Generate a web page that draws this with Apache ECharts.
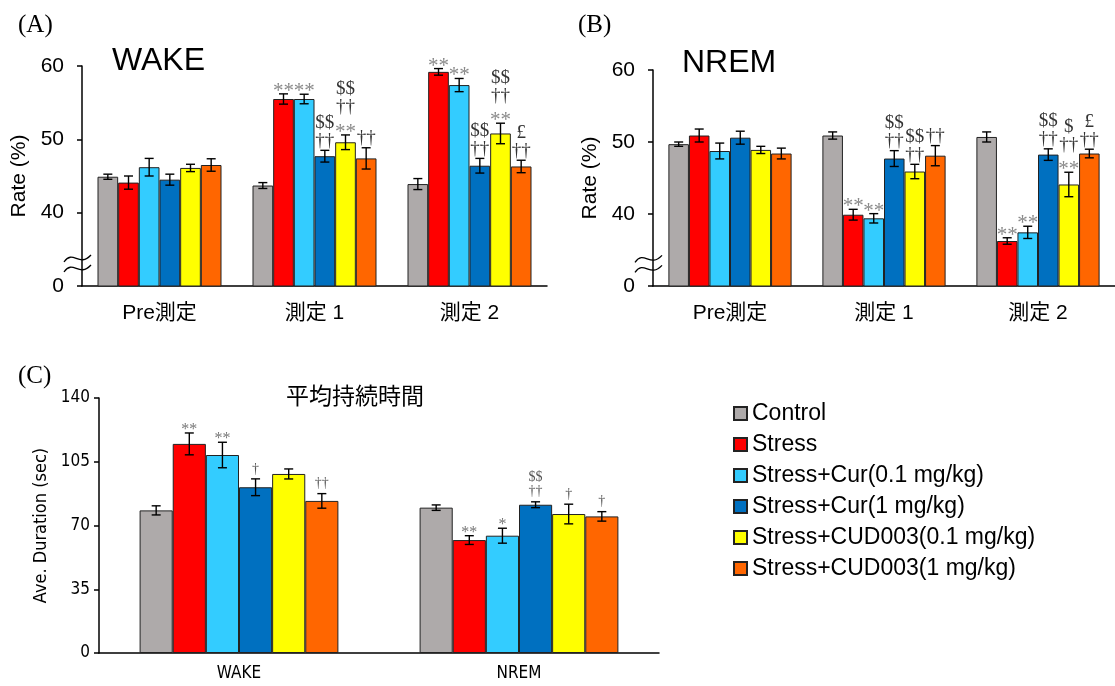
<!DOCTYPE html>
<html>
<head>
<meta charset="utf-8">
<script src="https://cdn.jsdelivr.net/npm/echarts@6/dist/echarts.min.js"></script>
<style>
  html, body { margin: 0; padding: 0; background: #fff; }
  #chart { width: 1115px; height: 686px; }
</style>
</head>
<body>
<div id="chart"></div>
<script>
// ---- data ----
const groups = [
  'Control',
  'Stress',
  'Stress+Cur(0.1 mg/kg)',
  'Stress+Cur(1 mg/kg)',
  'Stress+CUD003(0.1 mg/kg)',
  'Stress+CUD003(1 mg/kg)'
];
const colors = ['#AEAAAA', '#FF0000', '#33CCFF', '#0070C0', '#FFFF00', '#FF6600'];
const phases = ['Pre測定', '測定 1', '測定 2'];
const stages = ['WAKE', 'NREM'];

// WAKE rate (%) per group, across phases
const wakeRate = [
  [44.9, 43.7, 43.9],
  [44.1, 55.5, 59.2],
  [46.2, 55.5, 57.4],
  [44.5, 47.7, 46.4],
  [46.1, 49.6, 50.8],
  [46.5, 47.4, 46.3]
];
const wakeErr = [
  [0.35, 0.4, 0.75],
  [0.9, 0.7, 0.45],
  [1.2, 0.65, 0.9],
  [0.75, 0.8, 1.0],
  [0.5, 1.0, 1.4],
  [0.85, 1.45, 0.85]
];
const wakeSig = [
  ['', '', ''],
  ['', '**', '**'],
  ['', '**', '**'],
  ['', '$$\n††', '$$\n††'],
  ['', '$$\n††\n**', '$$\n††\n**'],
  ['', '††', '£\n††']
];

// NREM rate (%)
const nremRate = [
  [49.7, 50.9, 50.7],
  [50.9, 39.9, 36.25],
  [48.75, 39.4, 37.45],
  [50.6, 47.7, 48.25],
  [48.9, 45.9, 44.1],
  [48.4, 48.1, 48.4]
];
const nremErr = [
  [0.3, 0.5, 0.7],
  [0.9, 0.75, 0.45],
  [1.1, 0.65, 0.85],
  [0.9, 1.1, 0.8],
  [0.5, 1.0, 1.7],
  [0.75, 1.4, 0.6]
];
const nremSig = [
  ['', '', ''],
  ['', '**', '**'],
  ['', '**', '**'],
  ['', '$$\n††', '$$\n††'],
  ['', '$$\n††', '$\n††\n**'],
  ['', '††', '£\n††']
];

// Average episode duration (sec): WAKE, NREM
const duration = [
  [78.3, 79.8],
  [114.8, 62.0],
  [108.7, 64.4],
  [91.0, 81.4],
  [98.3, 76.3],
  [83.5, 75.0]
];
const durationErr = [
  [2.5, 1.5],
  [6.0, 2.4],
  [7.0, 4.1],
  [4.6, 1.6],
  [2.75, 5.4],
  [4.0, 2.6]
];
const durationSig = [
  ['', ''],
  ['**', '**'],
  ['**', '*'],
  ['†', '$$\n††'],
  ['', '†'],
  ['††', '†']
];

const rateTicks = { min: 30, max: 60, interval: 10 };   // lowest tick is shown as 0 (broken axis)
const durTicks = { min: 0, max: 140, interval: 35 };

// ---- style ----
const SANS = "'Liberation Sans', Arial, 'Noto Sans CJK JP', sans-serif";
const NARROW = "'Liberation Sans Narrow', 'Arial Narrow', 'DejaVu Sans Condensed', 'Noto Sans CJK JP', sans-serif";
const SERIF = "'Liberation Serif', 'Times New Roman', serif";

const layout = {
  A: { left: 82, top: 66, width: 465, height: 220 },
  B: { left: 653, top: 70, width: 465, height: 216 },
  C: { left: 99, top: 398, width: 560, height: 255 }
};

const bigMarks = {
  font: '19px ' + SERIF, astFont: '21px ' + SERIF,
  pitch: 18, base: 9.5, astShift: 7, cap: 4.5, color: '#333', astColor: '#8a8a8a'
};
const smallMarks = {
  font: '14px ' + SERIF, astFont: '16px ' + SERIF,
  pitch: 14, base: 10, astShift: 7, cap: 4.5, color: '#555', astColor: '#777'
};

// error bars and significance marks, positioned through the axes
function errorLayer(gi, values, errs, sig, gapRatio, m) {
  const items = [];
  const labels = [];
  values.forEach((row, si) => row.forEach((v, ci) => {
    items.push([ci, si, v, errs[si][ci]]);
    labels.push(sig[si][ci]);
  }));
  return {
    type: 'custom',
    name: 'err' + gi,
    xAxisIndex: gi,
    yAxisIndex: gi,
    z: 5,
    silent: true,
    encode: { x: 0, y: 2 },
    data: items,
    renderItem(params, api) {
      const ci = api.value(0), si = api.value(1), v = api.value(2), e = api.value(3);
      const band = api.size([1, 0])[0];
      const bw = band * (1 - gapRatio) / groups.length;
      const cx = api.coord([ci, v])[0] + (si - (groups.length - 1) / 2) * bw;
      const yHi = api.coord([ci, v + e])[1];
      const yLo = api.coord([ci, v - e])[1];
      const ls = { stroke: '#000', lineWidth: 1.4 };
      const children = [
        { type: 'line', shape: { x1: cx, y1: yHi, x2: cx, y2: yLo }, style: ls },
        { type: 'line', shape: { x1: cx - m.cap, y1: yHi, x2: cx + m.cap, y2: yHi }, style: ls },
        { type: 'line', shape: { x1: cx - m.cap, y1: yLo, x2: cx + m.cap, y2: yLo }, style: ls }
      ];
      const txt = labels[params.dataIndex];
      if (txt) {
        txt.split('\n').reverse().forEach((ln, k) => {
          const ast = ln.indexOf('*') >= 0;
          children.push({
            type: 'text',
            style: {
              text: ln,
              x: cx,
              y: yHi - m.base - k * m.pitch + (ast ? m.astShift : 0),
              align: 'center',
              verticalAlign: 'middle',
              font: ast ? m.astFont : m.font,
              fill: ast ? m.astColor : m.color
            }
          });
        });
      }
      return { type: 'group', children };
    }
  };
}

function valueAxis(gi, ticks, opts) {
  return {
    gridIndex: gi,
    type: 'value',
    min: ticks.min,
    max: ticks.max,
    interval: ticks.interval,
    splitLine: { show: false },
    axisLine: { show: true, lineStyle: { color: '#000', width: 1.5 } },
    axisTick: { show: true, length: 5, lineStyle: { color: '#000', width: 1.5 } },
    axisLabel: {
      color: '#000', fontFamily: opts.font, fontSize: opts.size, margin: opts.margin,
      formatter: opts.formatter
    },
    name: opts.name,
    nameLocation: 'middle',
    nameGap: opts.nameGap,
    nameTextStyle: { color: '#000', fontFamily: opts.font, fontSize: opts.nameSize }
  };
}

function categoryAxis(gi, cats, opts) {
  return {
    gridIndex: gi,
    type: 'category',
    data: cats,
    axisLine: { lineStyle: { color: '#000', width: 1.5 } },
    axisTick: { show: false },
    axisLabel: { color: '#000', fontFamily: opts.font, fontSize: opts.size, margin: opts.margin }
  };
}

const rateLabel = v => (v === rateTicks.min ? '0' : String(v));

const panels = [
  { vals: wakeRate, errs: wakeErr, sig: wakeSig, gap: 0.2, marks: bigMarks },
  { vals: nremRate, errs: nremErr, sig: nremSig, gap: 0.2, marks: bigMarks },
  { vals: duration, errs: durationErr, sig: durationSig, gap: 0.29, marks: smallMarks }
];

const series = [];
panels.forEach((p, gi) => {
  groups.forEach((name, si) => {
    series.push({
      type: 'bar',
      name,
      xAxisIndex: gi,
      yAxisIndex: gi,
      data: p.vals[si],
      barGap: '0%',
      barCategoryGap: Math.round(p.gap * 100) + '%',
      clip: true,
      itemStyle: { color: colors[si], borderColor: '#222', borderWidth: 1 },
      emphasis: { disabled: true }
    });
  });
  series.push(errorLayer(gi, p.vals, p.errs, p.sig, p.gap, p.marks));
});

const titleStyle = (family, size) => ({ fontFamily: family, fontSize: size, fontWeight: 'normal', color: '#000' });

const option = {
  backgroundColor: '#fff',
  animation: false,
  title: [
    { text: '(A)', left: 18, top: 13, padding: 0, textStyle: titleStyle(SERIF, 25) },
    { text: 'WAKE', left: 112, top: 45, padding: 0, textStyle: titleStyle(SANS, 32) },
    { text: '(B)', left: 578, top: 13, padding: 0, textStyle: titleStyle(SERIF, 25) },
    { text: 'NREM', left: 682, top: 47, padding: 0, textStyle: titleStyle(SANS, 32) },
    { text: '(C)', left: 18, top: 364, padding: 0, textStyle: titleStyle(SERIF, 25) },
    { text: '平均持続時間', left: 286, top: 386, padding: 0, textStyle: titleStyle(SANS, 23) }
  ],
  legend: {
    orient: 'vertical',
    left: 733,
    top: 402,
    padding: 0,
    itemWidth: 13,
    itemHeight: 13,
    itemGap: 8,
    icon: 'rect',
    selectedMode: false,
    data: groups,
    textStyle: { fontFamily: SANS, fontSize: 23, lineHeight: 23, color: '#000' }
  },
  grid: [
    Object.assign({ containLabel: false }, layout.A),
    Object.assign({ containLabel: false }, layout.B),
    Object.assign({ containLabel: false }, layout.C)
  ],
  xAxis: [
    categoryAxis(0, phases, { font: SANS, size: 21, margin: 17 }),
    categoryAxis(1, phases, { font: SANS, size: 21, margin: 17 }),
    categoryAxis(2, stages, { font: NARROW, size: 17, margin: 12 })
  ],
  yAxis: [
    valueAxis(0, rateTicks, { font: SANS, size: 21, margin: 18, formatter: rateLabel, name: 'Rate (%)', nameGap: 52, nameSize: 21 }),
    valueAxis(1, rateTicks, { font: SANS, size: 21, margin: 18, formatter: rateLabel, name: 'Rate (%)', nameGap: 52, nameSize: 21 }),
    valueAxis(2, durTicks, { font: NARROW, size: 17, margin: 9, formatter: v => String(v), name: 'Ave. Duration (sec)', nameGap: 44, nameSize: 18 })
  ],
  series
};

const chart = echarts.init(document.getElementById('chart'), null, { renderer: 'canvas' });
chart.setOption(option);

// broken-axis mark between 0 and the first real tick
function breakMark(axisIdx, x) {
  const y = chart.convertToPixel({ yAxisIndex: axisIdx }, 33);
  const wave = dy => ({
    type: 'bezierCurve',
    shape: { x1: -18, y1: dy + 3, cpx1: -9, cpy1: dy - 10, cpx2: -3, cpy2: dy + 9, x2: 9, y2: dy - 4 },
    style: { stroke: '#000', fill: null, lineWidth: 1.3 }
  });
  return {
    type: 'group',
    x, y, z: 100,
    children: [
      { type: 'rect', shape: { x: -3, y: -5, width: 6, height: 10 }, style: { fill: '#fff' } },
      wave(-5),
      wave(5)
    ]
  };
}
chart.setOption({ graphic: [breakMark(0, layout.A.left), breakMark(1, layout.B.left)] });
</script>
</body>
</html>
